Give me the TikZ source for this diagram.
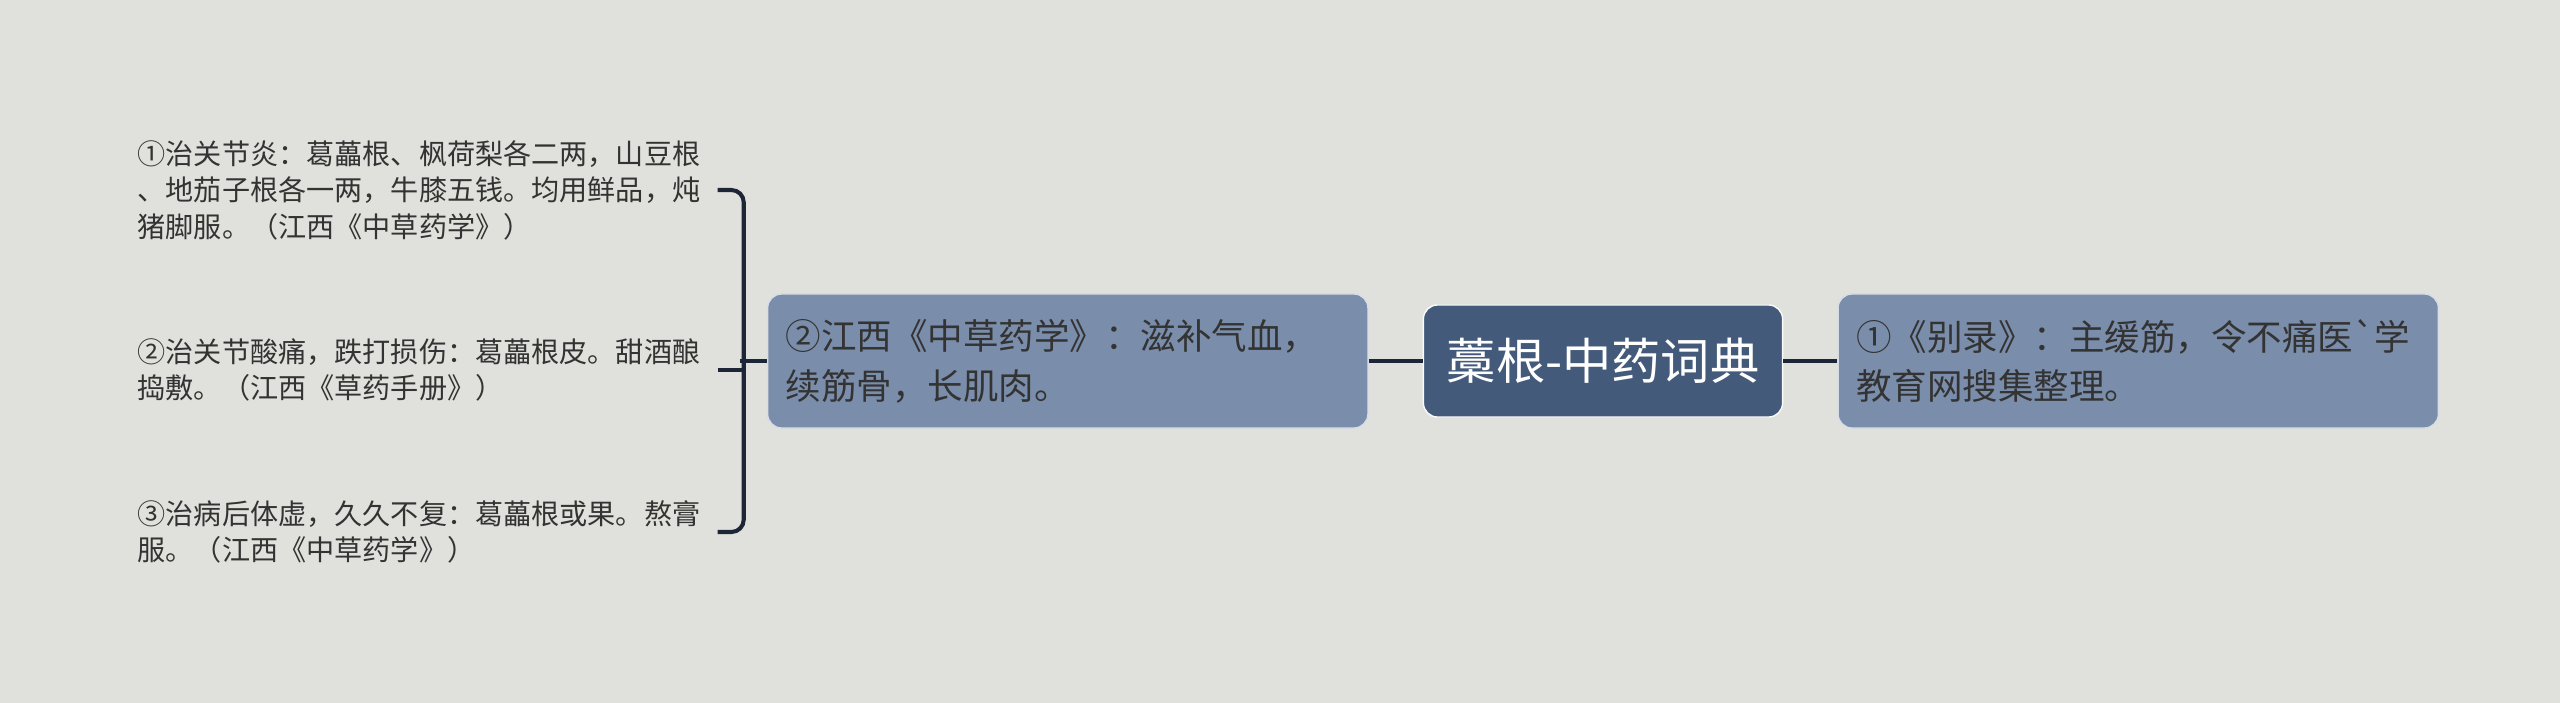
\documentclass[tikz,border=0pt]{standalone}
\usepackage{fontspec}
\setmainfont{Noto Sans CJK SC}
\usetikzlibrary{positioning}
\definecolor{Paper}{HTML}{E0E1DC}
\definecolor{Steel}{HTML}{7A8DAA}
\definecolor{DeepSteel}{HTML}{435A7A}
\definecolor{Ink}{HTML}{1C2636}
\definecolor{Grey}{HTML}{333333}

\begin{document}
\begin{tikzpicture}[x=0.01cm, y=-0.01cm,
  rootbox/.style={rounded corners=4pt, fill=DeepSteel, draw=white!85!Paper,
                  line width=0.4pt, minimum width=3.59cm, minimum height=1.12cm,
                  inner sep=0pt, font=\fontsize{14pt}{16pt}\selectfont\color{white}},
  topic/.style={rounded corners=4pt, fill=Steel, draw=white!70!Steel,
                line width=0.4pt, text width=5.64cm, inner xsep=0.18cm,
                minimum height=1.34cm, align=left,
                font=\fontsize{10.1pt}{14.2pt}\selectfont\color{Grey}},
  leaf/.style={text width=5.79cm, inner sep=0pt, align=left,
               font=\fontsize{8pt}{10.4pt}\selectfont\color{Grey}},
  link/.style={draw=Ink, line width=1.15pt},
  brk/.style={draw=Ink, line width=1.15pt, rounded corners=3.5pt}]
  \useasboundingbox[fill=Paper] (0,0) rectangle (2560,703);

  % main row
  \node[rootbox] (root) at (1603,361) {藁根-中药词典};
  \node[topic, left=0.54cm of root] (b1) {②江西《中草药学》：滋补气血，\\续筋骨，长肌肉。};
  \node[topic, right=0.54cm of root] (b2) {①《别录》：主缓筋，令不痛医\textasciigrave 学\\教育网搜集整理。};
  \draw[link] (b1) -- (root);
  \draw[link] (root) -- (b2);

  % leaves of b1
  \node[leaf, anchor=west] (l1) at (137,190) {①治关节炎：葛藟根、枫荷梨各二两，山豆根\\、地茄子根各一两，牛膝五钱。均用鲜品，炖\\猪脚服。（江西《中草药学》）};
  \node[leaf, anchor=west] (l2) at (137,370) {②治关节酸痛，跌打损伤：葛藟根皮。甜酒酿\\捣敷。（江西《草药手册》）};
  \node[leaf, anchor=west] (l3) at (137,532) {③治病后体虚，久久不复：葛藟根或果。熬膏\\服。（江西《中草药学》）};

  \draw[brk] (l1.east) -- ++(26,0) |- (l3.east);
  \draw[link] (l2.east) -- ++(26,0);
  \draw[link] (b1.west) -- ++(-27,0);
\end{tikzpicture}
\end{document}
